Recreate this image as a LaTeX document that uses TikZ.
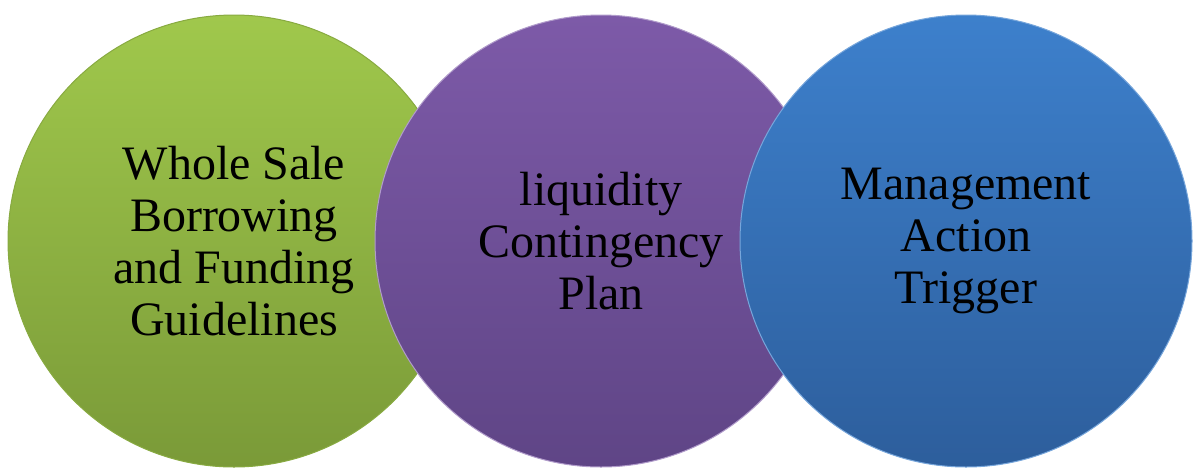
\documentclass[tikz,border=0pt]{standalone}
\usepackage{fontspec}
\setmainfont{Liberation Serif}
\definecolor{gtop}{HTML}{A0C84C}
\definecolor{gbot}{HTML}{7A9A38}
\definecolor{ptop}{HTML}{7D5AA8}
\definecolor{pbot}{HTML}{5F4586}
\definecolor{btop}{HTML}{3D80CC}
\definecolor{bbot}{HTML}{2D5E9C}
\begin{document}
\begin{tikzpicture}[x=1pt,y=1pt,
  ball/.style={circle, minimum size=452pt, inner sep=0pt, outer sep=0pt,
    align=center, line width=1pt,
    font=\fontsize{48}{52}\selectfont, text=black}]
\useasboundingbox (0,0) rectangle (1196,-467);
\node[ball, top color=gtop, bottom color=gbot, draw=gtop!85!black] (g) at (234,-241)
  {Whole Sale\\Borrowing\\and Funding\\Guidelines};
\node[ball, top color=ptop, bottom color=pbot, draw=ptop!60!white] (p) at (601,-241)
  {liquidity\\Contingency\\Plan};
\node[ball, top color=btop, bottom color=bbot, draw=btop!70!white] (b) at (966,-241)
  {Management\\Action\\Trigger};
\end{tikzpicture}
\end{document}
